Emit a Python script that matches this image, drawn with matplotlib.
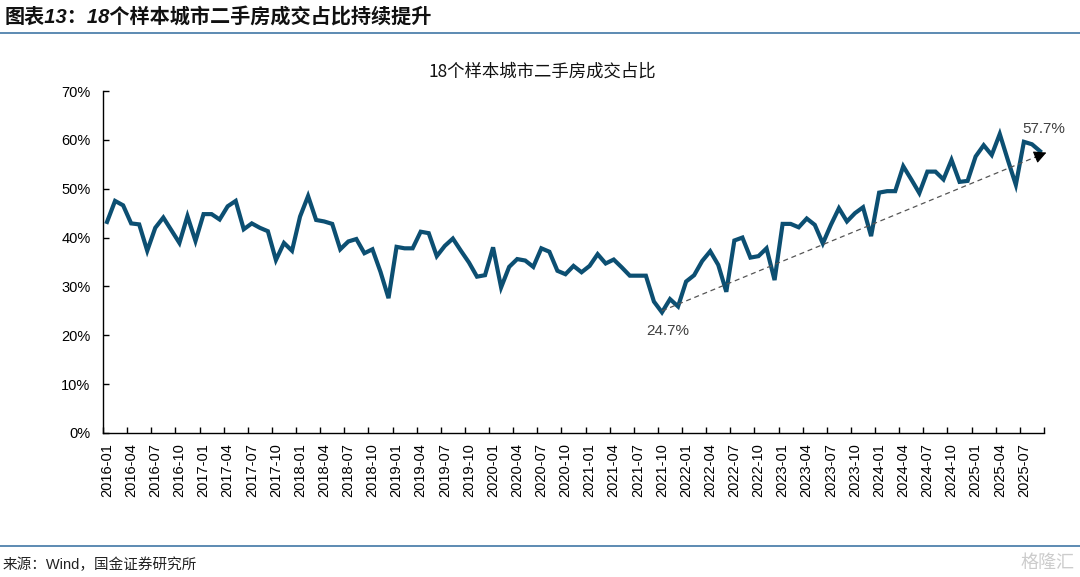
import matplotlib
matplotlib.use('Agg')
import matplotlib.pyplot as plt
from matplotlib.lines import Line2D
import numpy as np
import pandas as pd

plt.rcParams['font.family'] = ['Liberation Sans', 'Noto Sans CJK SC', 'DejaVu Sans']

# Data: share of second-hand housing deals in 18 sample cities (%)
months = pd.period_range('2016-01', '2025-09', freq='M').strftime('%Y-%m').tolist()
share = [43.2, 47.5, 46.6, 42.9, 42.7, 37.3, 42.0, 44.1, 41.5, 38.9, 44.4, 39.3,
         44.8, 44.8, 43.7, 46.4, 47.5, 41.7, 42.9, 42.0, 41.3, 35.4, 38.9, 37.3,
         44.3, 48.5, 43.6, 43.3, 42.8, 37.6, 39.2, 39.7, 36.8, 37.6, 33.0, 27.6,
         38.1, 37.8, 37.8, 41.2, 40.9, 36.2, 38.3, 39.8, 37.3, 34.9, 32.0, 32.3,
         38.0, 29.8, 34.0, 35.6, 35.3, 34.0, 37.8, 37.1, 33.2, 32.5, 34.2, 32.9,
         34.2, 36.6, 34.7, 35.5, 33.9, 32.2, 32.2, 32.2, 26.9, 24.7, 27.4, 25.9,
         31.0, 32.3, 35.2, 37.2, 34.4, 28.9, 39.4, 40.0, 35.9, 36.2, 37.8, 31.3,
         42.8, 42.8, 42.1, 43.9, 42.6, 38.8, 42.6, 46.0, 43.3, 45.0, 46.2, 40.3,
         49.2, 49.5, 49.5, 54.6, 51.9, 49.1, 53.5, 53.5, 51.9, 55.9, 51.4, 51.6,
         56.6, 58.9, 56.9, 61.2, 55.9, 50.8, 59.6, 59.1, 57.7]
trend_x = [69, 116.8]
trend_y = [25.0, 57.4]
low_label = '24.7%'
last_label = '57.7%'
yticks = [0, 10, 20, 30, 40, 50, 60, 70]

fig = plt.figure(figsize=(10.8, 5.77), dpi=100)

# header / footer
fig.text(5 / 1080, 1 - 17 / 577, '图表13：18个样本城市二手房成交占比持续提升',
         fontsize=14.5, fontweight='bold', style='italic', va='center', ha='left', color='#111111')
fig.add_artist(Line2D([0, 1], [1 - 33 / 577] * 2, color='#4f81ad', lw=1.3))
fig.add_artist(Line2D([0, 1], [1 - 546 / 577] * 2, color='#4f81ad', lw=1.3))
fig.text(3 / 1080, 1 - 565 / 577, '来源：Wind，国金证券研究所', fontsize=10.5,
         va='center', ha='left', color='#222222')
fig.text(1075 / 1080, 1 - 563 / 577, '格隆汇', fontsize=13, va='center', ha='right',
         color='#cccccc')
fig.text(542 / 1080, 1 - 72 / 577, '18个样本城市二手房成交占比', fontsize=12.5,
         ha='center', va='center', color='#111111',
         fontfamily=['Noto Sans CJK SC', 'DejaVu Sans'])

ax = fig.add_axes([103 / 1080, 1 - 433 / 577, 941 / 1080, 342 / 577])
ax.set_clip_on(False)
x = np.arange(len(months))
ax.plot(x, share, color='#0c4f72', lw=3.0, solid_joinstyle='miter', zorder=3)

# trend line with arrow head
ax.plot(trend_x, trend_y, color='#555555', lw=0.9, ls=(0, (4, 3)), zorder=4)
ax.annotate('', xy=(trend_x[1], trend_y[1]),
            xytext=(trend_x[1] - 1.4, trend_y[1] - 0.95),
            arrowprops=dict(arrowstyle='-|>,head_length=0.75,head_width=0.38',
                            color='black', lw=0.8, shrinkA=0, shrinkB=0),
            zorder=5, annotation_clip=False)

ax.text(69.7, 20.9, low_label, ha='center', va='center', fontsize=11, color='#404040')
ax.text(116.5, 62.3, last_label, ha='center', va='center', fontsize=11, color='#404040')

ax.set_xlim(-0.5, len(months) - 0.5)
ax.set_ylim(0, 70)
ax.set_yticks(yticks)
ax.set_yticklabels([f'{v}%' for v in yticks])
ax.set_xticks(np.arange(-0.5, len(months), 3))
ax.set_xticklabels([])
ax.set_xticks(x[::3], minor=True)
ax.set_xticklabels(months[::3], minor=True, rotation=90)
ax.tick_params(axis='x', which='major', direction='in', length=4, width=1)
ax.tick_params(axis='x', which='minor', length=0, pad=7, labelsize=10.5)
ax.tick_params(axis='y', direction='in', length=4, width=1, pad=9, labelsize=10.5)

for s in ['top', 'right']:
    ax.spines[s].set_visible(False)
for s in ['left', 'bottom']:
    ax.spines[s].set_linewidth(1.0)

fig.savefig('out.png', dpi=100)
